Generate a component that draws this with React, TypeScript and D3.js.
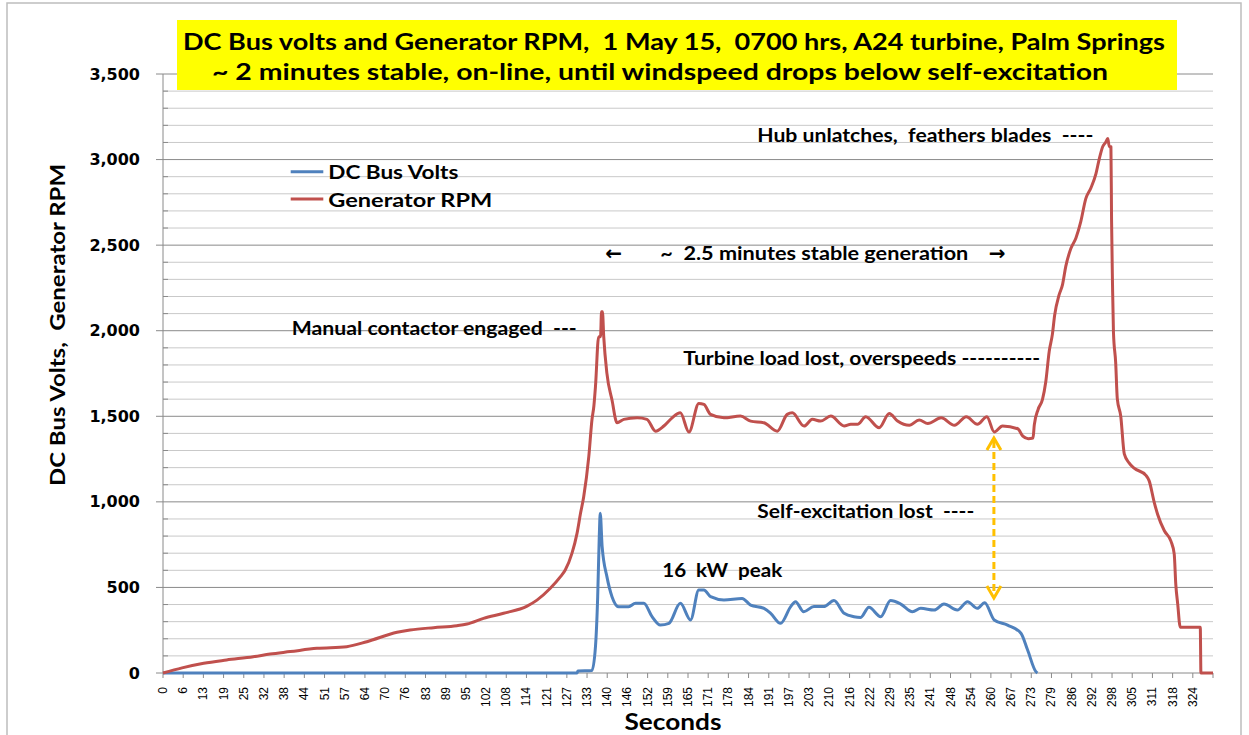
import React from 'react';
import * as d3 from 'd3';

// tick labels on the category axis (seconds)
const xTickLabels = ['0', '6', '13', '19', '25', '32', '38', '44', '51', '57', '64', '70', '76', '83', '89', '95',
  '102', '108', '114', '121', '127', '133', '140', '146', '152', '159', '165', '171', '178', '184', '191', '197',
  '203', '210', '216', '222', '229', '235', '241', '248', '254', '260', '267', '273', '279', '286', '292', '298',
  '305', '311', '318', '324'];
const axisEndSeconds = 330.2;
const yTicks = [0, 500, 1000, 1500, 2000, 2500, 3000, 3500];

// DC Bus Volts
const voltsTime = [0, 130.2, 130.5, 134.9, 136, 136.7, 137.2, 137.5, 138.1, 139.6, 141.2, 143.3, 146.4, 148.6,
  151.2, 153.8, 156.4, 159.1, 162.7, 165.9, 168.5, 170.1, 172.2, 176.4, 182.1, 184.8, 189, 191.1, 194.2, 197.4,
  198.9, 201.5, 204.7, 207.8, 211, 214.2, 217.3, 219.4, 222, 225.7, 228.8, 232, 235.7, 238.3, 242.5, 245.6,
  249.8, 253, 256.1, 258.4, 261.4, 265.6, 269.8, 271.9, 274.5, 275];
const voltsValue = [0, 0, 12, 15, 154, 446, 800, 933, 738, 563, 446, 387, 387, 407,
  407, 329, 280, 290, 407, 310, 485, 485, 446, 427, 436, 397, 378, 349, 290, 388,
  417, 358, 388, 388, 423, 349, 329, 325, 384, 329, 423, 403, 358, 378, 368, 403,
  368, 417, 378, 411, 310, 280, 232, 134, 8, 0];

// Generator RPM
const rpmTime = [0, 6, 12.8, 20, 28.4, 33.7, 40, 48.4, 57.8, 64.1, 73.6, 77.7, 85.1, 92.4, 95.6, 100.8, 107.1,
  114.5, 117.6, 121.8, 125, 126.5, 128.6, 130.2, 131.3, 132.3, 133.9, 134.9, 135.5, 136, 137, 137.6, 137.9,
  138.2, 138.6, 139.6, 141.2, 142.8, 144.9, 149.1, 152.2, 154.9, 157.5, 160.1, 162.7, 165.4, 168.5, 170.1,
  172.2, 176.4, 181.6, 184.8, 189, 193.2, 196.3, 197.9, 201.6, 204.2, 206.8, 210, 214.2, 216.3, 218.4, 221,
  225.2, 228.4, 231, 234.7, 237.8, 240.5, 244.7, 248.9, 252.6, 256.1, 259.1, 261.4, 264, 268.8, 270.4, 272.1,
  273.6, 274, 275.2, 276.6, 277.6, 278.7, 279.7, 280.4, 281.8, 282.9, 283.9, 285.5, 287.1, 288.6, 290.2,
  291.8, 293.4, 294.4, 295.5, 296.5, 297.1, 297.6, 298.1, 298.3, 298.6, 298.9, 299.6, 300.1, 301.2, 302.3,
  303.8, 305.4, 309.1, 310.1, 311.7, 312.8, 314.9, 317, 318, 318.5, 319.1, 319.9, 326.2, 326.4, 330.2];
const rpmValue = [0, 30, 57, 76, 95, 111, 125, 144, 154, 183, 238, 251, 265, 276, 286, 319, 349,
  391, 426, 495, 563, 602, 699, 816, 933, 1030, 1264, 1480, 1560, 1673, 1965, 1965, 2111,
  2111, 1965, 1751, 1595, 1462, 1482, 1491, 1482, 1413, 1443, 1491, 1520, 1408, 1575, 1569,
  1511, 1491, 1501, 1472, 1462, 1413, 1511, 1520, 1443, 1482, 1472, 1501, 1443, 1453, 1453, 1497,
  1433, 1516, 1472, 1447, 1478, 1458, 1491, 1447, 1497, 1453, 1497, 1408, 1443, 1427, 1384, 1369,
  1373, 1450, 1540, 1600, 1700, 1880, 1980, 2090, 2209, 2271, 2376, 2480, 2542, 2636, 2772,
  2834, 2918, 3001, 3075, 3102, 3123, 3075, 3075, 2647, 2271, 1990, 1812, 1603, 1499, 1280,
  1228, 1197, 1155, 1124, 999, 926, 831, 769, 696, 518, 404, 268, 268, 0, 0];

const seriesNames = ['DC Bus Volts', 'Generator RPM'];
const seriesColors = ['#4F81BD', '#C0504D'];

const titleLines = [
  'DC Bus volts and Generator RPM,  1 May 15,  0700 hrs, A24 turbine, Palm Springs',
  '~ 2 minutes stable, on-line, until windspeed drops below self-excitation',
];

// annotations placed in data units (seconds, value)
const notes = [
  { text: 'Manual contactor engaged  ---', s: 40.5, v: 2018, len: 285 },
  { text: 'Turbine load lost, overspeeds ----------', s: 163.6, v: 1839, len: 357 },
  { text: 'Hub unlatches,  feathers blades  ----', s: 186.9, v: 3144, len: 336 },
  { text: '~  2.5 minutes stable generation', s: 156.4, v: 2454, len: 308 },
  { text: 'Self-excitation lost  ----', s: 186.9, v: 948, len: 217 },
  { text: '16  kW  peak', s: 157, v: 602, len: 120 },
];
const arrowLeft = { s: 139.1, v: 2454 };
const arrowRight = { s: 259.7, v: 2454 };
const excitationArrow = { s: 261.3, top: 1373, bottom: 438 };

const W = 1249;
const H = 735;
const plot = { left: 163, right: 1213, top: 74, bottom: 673 };
const calibri = 'Lato, "Open Sans", sans-serif';

export default function App() {
  const x = d3.scaleLinear().domain([0, axisEndSeconds]).range([plot.left, plot.right]);
  const y = d3.scaleLinear().domain([0, 3500]).range([plot.bottom, plot.top]);

  const line = d3.line<[number, number]>()
    .x(d => x(d[0]))
    .y(d => y(d[1]))
    .curve(d3.curveMonotoneX);

  const volts = voltsTime.map((t, i) => [t, voltsValue[i]] as [number, number]);
  const rpm = rpmTime.map((t, i) => [t, rpmValue[i]] as [number, number]);

  const grid = d3.range(100, 3501, 100);
  const nTicks = xTickLabels.length + 1;
  const tickX = d3.range(nTicks).map(i => x(i * axisEndSeconds / xTickLabels.length));

  const ax = x(excitationArrow.s);
  const aTop = y(excitationArrow.top);
  const aBot = y(excitationArrow.bottom);

  return (
    <svg width={W} height={H} style={{ position: 'absolute', left: 0, top: 0, display: 'block', background: '#fff' }}>
      <rect x={7} y={3} width={1234} height={745} fill="#fff" stroke="#bdbdbd" strokeWidth={1.5} />

      {/* gridlines */}
      {grid.map(g => (
        <line key={g} x1={plot.left} x2={plot.right} y1={y(g)} y2={y(g)}
          stroke={g % 500 === 0 ? '#8a8a8a' : '#c9c9c9'} strokeWidth={1} />
      ))}

      {/* y axis */}
      <line x1={plot.left} x2={plot.left} y1={plot.top} y2={plot.bottom} stroke="#8a8a8a" />
      {grid.filter(g => g % 500 !== 0).map(g => (
        <line key={'m' + g} x1={plot.left} x2={plot.left + 5} y1={y(g)} y2={y(g)} stroke="#8a8a8a" />
      ))}
      {yTicks.map(t => (
        <g key={t}>
          <line x1={plot.left - 7} x2={plot.left} y1={y(t)} y2={y(t)} stroke="#8a8a8a" />
          <text x={140} y={y(t)} textAnchor="end" dominantBaseline="central"
            fontFamily='"DejaVu Sans", Verdana, sans-serif' fontWeight="bold" fontSize={16}>
            {d3.format(',')(t)}
          </text>
        </g>
      ))}

      {/* x axis */}
      <line x1={plot.left} x2={plot.right} y1={plot.bottom} y2={plot.bottom} stroke="#8a8a8a" />
      {tickX.map((tx, i) => (
        <line key={i} x1={tx} x2={tx} y1={plot.bottom} y2={plot.bottom + 5} stroke="#8a8a8a" />
      ))}
      {xTickLabels.map((lab, i) => (
        <text key={lab} transform={`translate(${tickX[i]},687) rotate(-90)`} textAnchor="end"
          dominantBaseline="central" fontFamily='"Liberation Sans", Arial, sans-serif' fontSize={12}>
          {lab}
        </text>
      ))}

      {/* series */}
      <path d={line(volts) || ''} fill="none" stroke={seriesColors[0]} strokeWidth={3} strokeLinejoin="round" />
      <path d={line(rpm) || ''} fill="none" stroke={seriesColors[1]} strokeWidth={3} strokeLinejoin="round" />

      {/* legend */}
      {seriesNames.map((n, i) => {
        const ly = 171.7 + i * 27.3;
        return (
          <g key={n}>
            <line x1={290.7} x2={323.3} y1={ly} y2={ly} stroke={seriesColors[i]} strokeWidth={3} />
            <text x={328.3} y={ly} dominantBaseline="central" fontFamily={calibri} fontWeight="bold"
              fontSize={19} textLength={i === 0 ? 130 : 164} lengthAdjust="spacingAndGlyphs">{n}</text>
          </g>
        );
      })}

      {/* annotations */}
      {notes.map(n => (
        <text key={n.text} x={x(n.s)} y={y(n.v)} dominantBaseline="central" fontFamily={calibri}
          fontWeight="bold" fontSize={18} textLength={n.len} lengthAdjust="spacingAndGlyphs" style={{ whiteSpace: 'pre' }}>
          {n.text}
        </text>
      ))}
      <text x={x(arrowLeft.s)} y={y(arrowLeft.v)} dominantBaseline="central" fontFamily='"DejaVu Sans", sans-serif'
        fontWeight="bold" fontSize={20}>←</text>
      <text x={x(arrowRight.s)} y={y(arrowRight.v)} dominantBaseline="central" fontFamily='"DejaVu Sans", sans-serif'
        fontWeight="bold" fontSize={20}>→</text>

      {/* self-excitation double arrow */}
      <line x1={ax} x2={ax} y1={aTop + 3} y2={aBot - 3} stroke="#FFC000" strokeWidth={3} strokeDasharray="7,4" />
      <path d={`M${ax - 7},${aTop + 12} L${ax},${aTop} L${ax + 7},${aTop + 12}`} fill="none" stroke="#FFC000" strokeWidth={3} />
      <path d={`M${ax - 7},${aBot - 12} L${ax},${aBot} L${ax + 7},${aBot - 12}`} fill="none" stroke="#FFC000" strokeWidth={3} />

      {/* title */}
      <rect x={177} y={20} width={1000} height={70} fill="#FFFF00" />
      <text x={674} y={41} textAnchor="middle" dominantBaseline="central" fontFamily={calibri} fontWeight="bold"
        fontSize={22} textLength={982} lengthAdjust="spacingAndGlyphs" style={{ whiteSpace: 'pre' }}>{titleLines[0]}</text>
      <text x={660} y={71} textAnchor="middle" dominantBaseline="central" fontFamily={calibri} fontWeight="bold"
        fontSize={22} textLength={896} lengthAdjust="spacingAndGlyphs" style={{ whiteSpace: 'pre' }}>{titleLines[1]}</text>

      {/* axis titles */}
      <text transform="translate(56,325) rotate(-90)" textAnchor="middle" dominantBaseline="central"
        fontFamily={calibri} fontWeight="bold" fontSize={21} textLength={322} lengthAdjust="spacingAndGlyphs"
        style={{ whiteSpace: 'pre' }}>DC Bus Volts,  Generator RPM</text>
      <text x={673} y={721} textAnchor="middle" dominantBaseline="central" fontFamily={calibri} fontWeight="bold"
        fontSize={22} textLength={97} lengthAdjust="spacingAndGlyphs">Seconds</text>
    </svg>
  );
}
